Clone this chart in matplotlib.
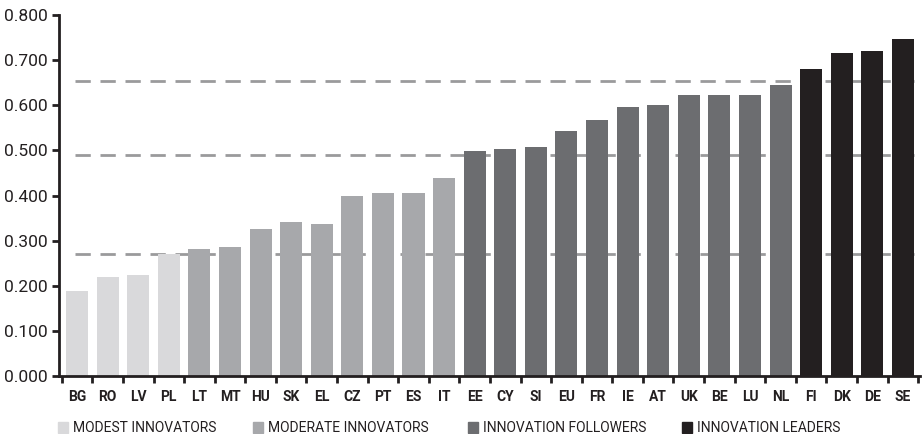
import matplotlib
matplotlib.use("Agg")
import matplotlib.pyplot as plt
from matplotlib.patches import Rectangle

countries = ["BG", "RO", "LV", "PL", "LT", "MT", "HU", "SK", "EL", "CZ", "PT", "ES", "IT",
             "EE", "CY", "SI", "EU", "FR", "IE", "AT", "UK", "BE", "LU", "NL",
             "FI", "DK", "DE", "SE"]
values = [0.188, 0.219, 0.224, 0.270, 0.281, 0.286, 0.326, 0.341, 0.337, 0.399, 0.406, 0.406, 0.439,
          0.499, 0.503, 0.507, 0.543, 0.567, 0.596, 0.601, 0.623, 0.623, 0.623, 0.645,
          0.680, 0.716, 0.720, 0.747]
groups = [0, 0, 0, 0, 1, 1, 1, 1, 1, 1, 1, 1, 1,
          2, 2, 2, 2, 2, 2, 2, 2, 2, 2, 2,
          3, 3, 3, 3]
group_names = ["MODEST INNOVATORS", "MODERATE INNOVATORS", "INNOVATION FOLLOWERS", "INNOVATION LEADERS"]
group_colors = ["#d9d9db", "#a7a8ab", "#6c6d70", "#231f20"]
thresholds = [0.270, 0.490, 0.653]
yticks = [0.0, 0.1, 0.2, 0.3, 0.4, 0.5, 0.6, 0.7, 0.8]

plt.rcParams["font.family"] = ["Roboto", "DejaVu Sans"]

fig = plt.figure(figsize=(9.24, 4.34), dpi=100)
ax = fig.add_axes([59/924, 1-376/434, (920-59)/924, (376-15)/434])

x = list(range(len(countries)))
ax.hlines(thresholds, -0.08, 27.36, colors="#9a9a9c", linestyles=(0, (5.5, 3.5)), linewidth=2, zorder=1)
ax.bar(x, values, width=0.72, color=[group_colors[g] for g in groups], zorder=2)

ax.set_xlim(-0.59, len(countries) - 0.44)
ax.set_ylim(0, 0.8)
ax.set_yticks(yticks)
ax.set_yticklabels([f"{v:.3f}" for v in yticks], fontsize=12.5, color="#231f20")
ax.set_xticks(x)
ax.set_xticklabels(countries, fontsize=10, fontweight="bold", color="#231f20")
ax.set_xticks([i - 0.5 for i in range(len(countries) + 1)], minor=True)
ax.tick_params(axis="x", which="major", length=0, pad=10)
ax.tick_params(axis="x", which="minor", length=5, width=2, color="#231f20", direction="out")
ax.tick_params(axis="y", length=5, width=2, color="#231f20", direction="out", pad=3)
for s in ["top", "right"]:
    ax.spines[s].set_visible(False)
for s in ["left", "bottom"]:
    ax.spines[s].set_linewidth(2)
    ax.spines[s].set_color("#231f20")

leg_x = [58, 253, 468, 682]
for lx, name, col in zip(leg_x, group_names, group_colors):
    fig.patches.append(Rectangle((lx/924, 1-433/434), 10/924, 11/434,
                                 transform=fig.transFigure, color=col, figure=fig))
    fig.text((lx + 15)/924, 1-427.5/434, name, fontsize=10, color="#231f20", va="center", ha="left")

fig.savefig("out.png", dpi=100)
